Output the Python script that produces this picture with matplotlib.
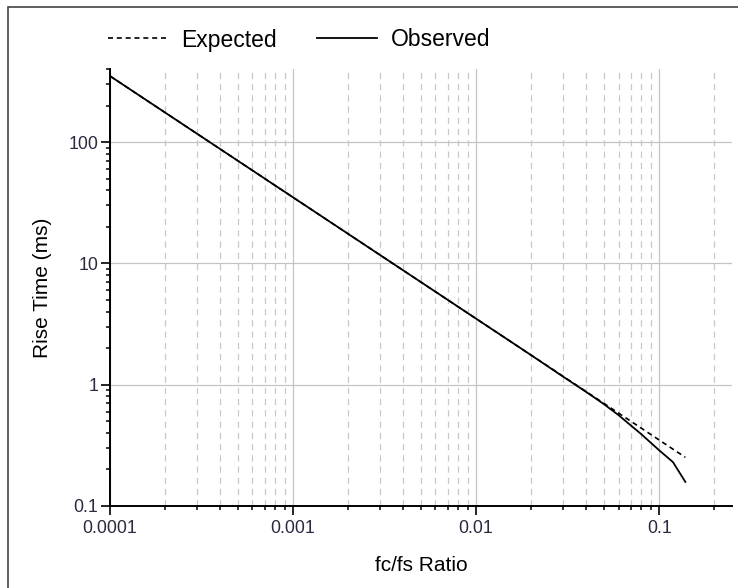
import matplotlib
matplotlib.use('Agg')
import matplotlib.pyplot as plt
from matplotlib.patches import Rectangle
from matplotlib.ticker import LogLocator, FixedLocator, NullFormatter

plt.rcParams['font.family'] = ['Liberation Sans', 'DejaVu Sans']

# fc/fs ratio and rise time (ms)
ratio = [0.0001, 0.0002, 0.0005, 0.001, 0.002, 0.005, 0.01, 0.02, 0.03,
         0.04, 0.05, 0.06, 0.08, 0.1, 0.119, 0.139]
expected = [350, 175, 70, 35, 17.5, 7.0, 3.5, 1.75, 1.167,
            0.875, 0.70, 0.583, 0.4375, 0.35, 0.294, 0.252]
observed = [350, 175, 70, 35, 17.5, 7.0, 3.5, 1.75, 1.16,
            0.87, 0.69, 0.561, 0.39, 0.288, 0.23, 0.158]

x_ticks = [0.0001, 0.001, 0.01, 0.1]
x_labels = ['0.0001', '0.001', '0.01', '0.1']
y_ticks = [0.1, 1, 10, 100]
y_labels = ['0.1', '1', '10', '100']

fig = plt.figure(figsize=(7.38, 5.88), dpi=100)
fig.patches.append(Rectangle((8 / 738, -0.1), 1.2, 1.1 - 7 / 588,
                             transform=fig.transFigure, fill=False,
                             edgecolor='#444444', linewidth=1.2))
ax = fig.add_axes([110 / 738, 1 - 506 / 588, 622 / 738, 437 / 588])

ax.set_xscale('log')
ax.set_yscale('log')
ax.set_xlim(0.0001, 0.25)
ax.set_ylim(0.1, 400)

ax.plot(ratio, expected, color='black', linestyle=(0, (3, 2.3)), linewidth=1.2,
        label='Expected')
ax.plot(ratio, observed, color='black', linestyle='-', linewidth=1.3,
        label='Observed')

ax.xaxis.set_major_locator(FixedLocator(x_ticks))
ax.set_xticklabels(x_labels)
ax.yaxis.set_major_locator(FixedLocator(y_ticks))
ax.set_yticklabels(y_labels)
ax.xaxis.set_minor_locator(LogLocator(base=10, subs=range(2, 10)))
ax.yaxis.set_minor_locator(LogLocator(base=10, subs=range(2, 10)))
ax.xaxis.set_minor_formatter(NullFormatter())
ax.yaxis.set_minor_formatter(NullFormatter())

ax.grid(which='major', axis='both', color='#c4c4c4', linewidth=0.9)
ax.grid(which='minor', axis='x', color='#c8c8c8', linewidth=0.9,
        linestyle=(0, (5, 4)))
ax.set_axisbelow(True)

for s in ['top', 'right']:
    ax.spines[s].set_visible(False)
for s in ['left', 'bottom']:
    ax.spines[s].set_linewidth(1.4)

ax.tick_params(which='major', direction='out', length=6.5, width=1.2,
               labelsize=12.8, labelcolor='#2a2a40')
ax.tick_params(axis='x', which='major', pad=3.5)
ax.tick_params(axis='y', which='major', pad=2)
ax.tick_params(which='minor', direction='out', length=3, width=1.1)

ax.set_xlabel('fc/fs Ratio', fontsize=15, labelpad=14)
ax.set_ylabel('Rise Time (ms)', fontsize=15, labelpad=12)

ax.legend(loc='center left', bbox_to_anchor=(-2 / 622, 1 + 29 / 437), ncol=2,
          frameon=False, fontsize=16.5, handlelength=2.6, columnspacing=1.75,
          handletextpad=0.6, borderaxespad=0, borderpad=0)

fig.savefig('out.png', dpi=100)
